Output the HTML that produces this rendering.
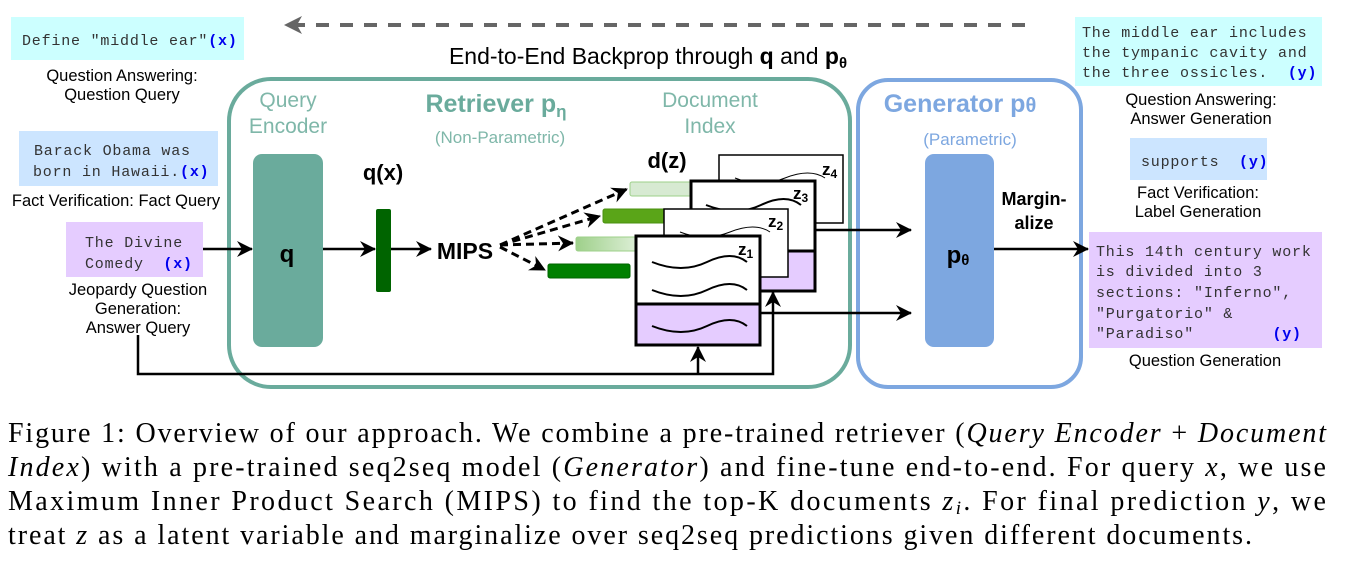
<!DOCTYPE html>
<html><head><meta charset="utf-8"><style>
html,body{margin:0;padding:0;background:#fff;}
svg{display:block;}
.m{font-family:"Liberation Mono",monospace;font-size:15px;letter-spacing:0.8px;fill:#333;white-space:pre;}
.y{font-family:"Liberation Mono",monospace;font-size:15px;fill:#0000ee;font-weight:bold;}
.s{font-family:"Liberation Sans",sans-serif;font-size:16.5px;fill:#000;}
.c{font-family:"Liberation Serif",serif;font-size:28px;fill:#000;}
</style></head><body>
<svg width="1368" height="584" viewBox="0 0 1368 584" xmlns="http://www.w3.org/2000/svg">
<defs>
<marker id="g" markerWidth="18" markerHeight="18" refX="16" refY="9" orient="auto" markerUnits="userSpaceOnUse"><path d="M0,0 L18,9 L0,18 L5,9 z" fill="#666"/></marker>
<marker id="ab" markerWidth="16" markerHeight="16" refX="15" refY="8" orient="auto" markerUnits="userSpaceOnUse"><path d="M0,0 L16,8 L0,16 L5,8 z" fill="#000"/></marker>
<linearGradient id="lg" x1="0" x2="1"><stop offset="0" stop-color="#9ed08a"/><stop offset="1" stop-color="#e0f0da"/></linearGradient>
</defs>
<line x1="1025" y1="25" x2="286" y2="25" stroke="#666" stroke-width="4" stroke-dasharray="13,11" marker-end="url(#g)"/>
<text x="648" y="64" text-anchor="middle" font-family="Liberation Sans,sans-serif" font-size="23">End-to-End Backprop through <tspan font-weight="bold">q</tspan> and <tspan font-weight="bold">p<tspan font-size="15" dy="4">θ</tspan></tspan></text>
<rect x="229" y="79" width="621" height="308" rx="42" fill="none" stroke="#6aab9c" stroke-width="4"/>
<rect x="858" y="80" width="223" height="307" rx="30" fill="none" stroke="#7da7e0" stroke-width="4"/>
<text x="288" y="107" text-anchor="middle" font-family="Liberation Sans,sans-serif" font-size="21" fill="#7fb7a9">Query</text>
<text x="288" y="133" text-anchor="middle" font-family="Liberation Sans,sans-serif" font-size="21" fill="#7fb7a9">Encoder</text>
<text x="496" y="112" text-anchor="middle" font-family="Liberation Sans,sans-serif" font-size="25" font-weight="bold" fill="#6aab9c">Retriever p<tspan font-size="17" dy="5">η</tspan></text>
<text x="500" y="143" text-anchor="middle" font-family="Liberation Sans,sans-serif" font-size="17" fill="#7fb7a9">(Non-Parametric)</text>
<text x="710" y="107" text-anchor="middle" font-family="Liberation Sans,sans-serif" font-size="21" fill="#7fb7a9">Document</text>
<text x="710" y="133" text-anchor="middle" font-family="Liberation Sans,sans-serif" font-size="21" fill="#7fb7a9">Index</text>
<rect x="253" y="154" width="70" height="193" rx="9" fill="#6aab9c"/>
<text x="287" y="262" text-anchor="middle" font-family="Liberation Sans,sans-serif" font-size="24" font-weight="bold">q</text>
<text x="383" y="180" text-anchor="middle" font-family="Liberation Sans,sans-serif" font-size="22" font-weight="bold">q(x)</text>
<rect x="376" y="209" width="15" height="83" rx="2" fill="#006400"/>
<text x="465" y="259" text-anchor="middle" font-family="Liberation Sans,sans-serif" font-size="23" font-weight="bold">MIPS</text>
<text x="667" y="168" text-anchor="middle" font-family="Liberation Sans,sans-serif" font-size="22" font-weight="bold">d(z)</text>
<line x1="203" y1="249" x2="252" y2="249" stroke="#000" stroke-width="2.5" marker-end="url(#ab)"/>
<line x1="323" y1="249" x2="375" y2="249" stroke="#000" stroke-width="2.5" marker-end="url(#ab)"/>
<line x1="391" y1="249" x2="431" y2="249" stroke="#000" stroke-width="2.5" marker-end="url(#ab)"/>
<rect x="630" y="182" width="62" height="14" rx="2" fill="#d7ead2" stroke="#9ed08a"/>
<rect x="603" y="209" width="62" height="14" rx="2" fill="#5aa518" stroke="#4a9010"/>
<rect x="576" y="237" width="64" height="14" rx="2" fill="url(#lg)" stroke="#9ed08a"/>
<rect x="548" y="264" width="82" height="14" rx="2" fill="#008000" stroke="#006400"/>
<g stroke="#000" stroke-width="3" stroke-dasharray="8,5" fill="none">
<line x1="500" y1="245" x2="627" y2="189" marker-end="url(#ab)"/>
<line x1="500" y1="245" x2="600" y2="216" marker-end="url(#ab)"/>
<line x1="500" y1="245" x2="573" y2="243" marker-end="url(#ab)"/>
<line x1="500" y1="247" x2="545" y2="270" marker-end="url(#ab)"/>
</g>
<g font-family="Liberation Sans,sans-serif" font-size="17" font-weight="bold">
<rect x="719" y="155" width="124" height="68" fill="#fff" stroke="#000" stroke-width="1.5"/>
<path d="M735,178 q25,10 50,0 t40,0" fill="none" stroke="#000" stroke-width="1"/>
<text x="822" y="175">z<tspan font-size="12" dy="3">4</tspan></text>
<rect x="691" y="181" width="124" height="70" fill="#fff" stroke="#000" stroke-width="3"/>
<rect x="691" y="251" width="124" height="40" fill="#e5ccff" stroke="#000" stroke-width="3"/>
<path d="M706,205 q30,12 55,0 t40,0" fill="none" stroke="#000" stroke-width="2"/>
<text x="793" y="199">z<tspan font-size="12" dy="3">3</tspan></text>
<rect x="664" y="209" width="124" height="68" fill="#fff" stroke="#000" stroke-width="1.5"/>
<path d="M680,232 q25,10 50,0 t40,0" fill="none" stroke="#000" stroke-width="1"/>
<text x="768" y="227">z<tspan font-size="12" dy="3">2</tspan></text>
<rect x="636" y="236" width="124" height="68" fill="#fff" stroke="#000" stroke-width="3"/>
<rect x="636" y="304" width="124" height="41" fill="#e5ccff" stroke="#000" stroke-width="3"/>
<path d="M652,262 q30,12 55,0 t40,0 M652,290 q30,12 55,0 t40,0 M652,326 q30,12 55,0 t40,0" fill="none" stroke="#000" stroke-width="2"/>
<text x="738" y="255">z<tspan font-size="12" dy="3">1</tspan></text>
</g>
<line x1="815" y1="230" x2="911" y2="230" stroke="#000" stroke-width="2.5" marker-end="url(#ab)"/>
<line x1="760" y1="313" x2="911" y2="313" stroke="#000" stroke-width="2.5" marker-end="url(#ab)"/>
<polyline points="138,335 138,374 773,374 773,292" fill="none" stroke="#000" stroke-width="2.5" marker-end="url(#ab)"/>
<line x1="698" y1="374" x2="698" y2="347" stroke="#000" stroke-width="2.5" marker-end="url(#ab)"/>
<text x="960" y="112" text-anchor="middle" font-family="Liberation Sans,sans-serif" font-size="25" font-weight="bold" fill="#7da7e0">Generator p<tspan font-size="20">θ</tspan></text>
<text x="970" y="145" text-anchor="middle" font-family="Liberation Sans,sans-serif" font-size="17" fill="#7da7e0">(Parametric)</text>
<rect x="925" y="154" width="69" height="193" rx="9" fill="#7da7e0"/>
<text x="958" y="263" text-anchor="middle" font-family="Liberation Sans,sans-serif" font-size="24" font-weight="bold">p<tspan font-size="15" dy="2">θ</tspan></text>
<text x="1034" y="205" text-anchor="middle" font-family="Liberation Sans,sans-serif" font-size="18" font-weight="bold">Margin-</text>
<text x="1034" y="229" text-anchor="middle" font-family="Liberation Sans,sans-serif" font-size="18" font-weight="bold">alize</text>
<line x1="994" y1="249" x2="1088" y2="249" stroke="#000" stroke-width="2.5" marker-end="url(#ab)"/>
<rect x="11" y="17" width="233" height="43" fill="#ccffff"/>
<text x="22" y="45" class="m">Define "middle ear"<tspan class="y">(x)</tspan></text>
<text x="122" y="81" text-anchor="middle" class="s">Question Answering:</text>
<text x="122" y="100" text-anchor="middle" class="s">Question Query</text>
<rect x="19" y="131" width="199" height="55" fill="#cce5ff"/>
<text x="34" y="155" class="m">Barack Obama was</text>
<text x="33" y="176" class="m">born in Hawaii.<tspan class="y">(x)</tspan></text>
<text x="116" y="206" text-anchor="middle" class="s">Fact Verification: Fact Query</text>
<rect x="66" y="222" width="137" height="55" fill="#e5ccff"/>
<text x="85" y="247" class="m">The Divine</text>
<text x="85" y="268" class="m">Comedy  <tspan class="y">(x)</tspan></text>
<text x="138" y="295" text-anchor="middle" class="s">Jeopardy Question</text>
<text x="138" y="314" text-anchor="middle" class="s">Generation:</text>
<text x="138" y="333" text-anchor="middle" class="s">Answer Query</text>
<rect x="1075" y="17" width="247" height="69" fill="#ccffff"/>
<text x="1082" y="37" class="m">The middle ear includes</text>
<text x="1082" y="57" class="m">the tympanic cavity and</text>
<text x="1082" y="77" class="m">the three ossicles.  <tspan class="y">(y)</tspan></text>
<text x="1201" y="105" text-anchor="middle" class="s">Question Answering:</text>
<text x="1201" y="124" text-anchor="middle" class="s">Answer Generation</text>
<rect x="1130" y="138" width="137" height="42" fill="#cce5ff"/>
<text x="1141" y="166" class="m">supports  <tspan class="y">(y)</tspan></text>
<text x="1198" y="198" text-anchor="middle" class="s">Fact Verification:</text>
<text x="1198" y="217" text-anchor="middle" class="s">Label Generation</text>
<rect x="1089" y="232" width="233" height="116" fill="#e5ccff"/>
<text x="1096" y="256" class="m">This 14th century work</text>
<text x="1096" y="276" class="m">is divided into 3</text>
<text x="1096" y="297" class="m">sections: "Inferno",</text>
<text x="1096" y="318" class="m">"Purgatorio" &amp;</text>
<text x="1096" y="338" class="m">"Paradiso"        <tspan class="y">(y)</tspan></text>
<text x="1205" y="366" text-anchor="middle" class="s">Question Generation</text>
<text x="8" y="442" class="c" textLength="1318" lengthAdjust="spacing">Figure 1: Overview of our approach. We combine a pre-trained retriever (<tspan font-style="italic">Query Encoder</tspan> + <tspan font-style="italic">Document</tspan></text>
<text x="8" y="476" class="c" textLength="1318" lengthAdjust="spacing"><tspan font-style="italic">Index</tspan>) with a pre-trained seq2seq model (<tspan font-style="italic">Generator</tspan>) and fine-tune end-to-end. For query <tspan font-style="italic">x</tspan>, we use</text>
<text x="8" y="510" class="c" textLength="1318" lengthAdjust="spacing">Maximum Inner Product Search (MIPS) to find the top-K documents <tspan font-style="italic">z<tspan font-size="19" dy="4">i</tspan></tspan><tspan dy="-4">. For final prediction </tspan><tspan font-style="italic">y</tspan>, we</text>
<text x="8" y="544" class="c" textLength="1244" lengthAdjust="spacing">treat <tspan font-style="italic">z</tspan> as a latent variable and marginalize over seq2seq predictions given different documents.</text>
</svg>
</body></html>
